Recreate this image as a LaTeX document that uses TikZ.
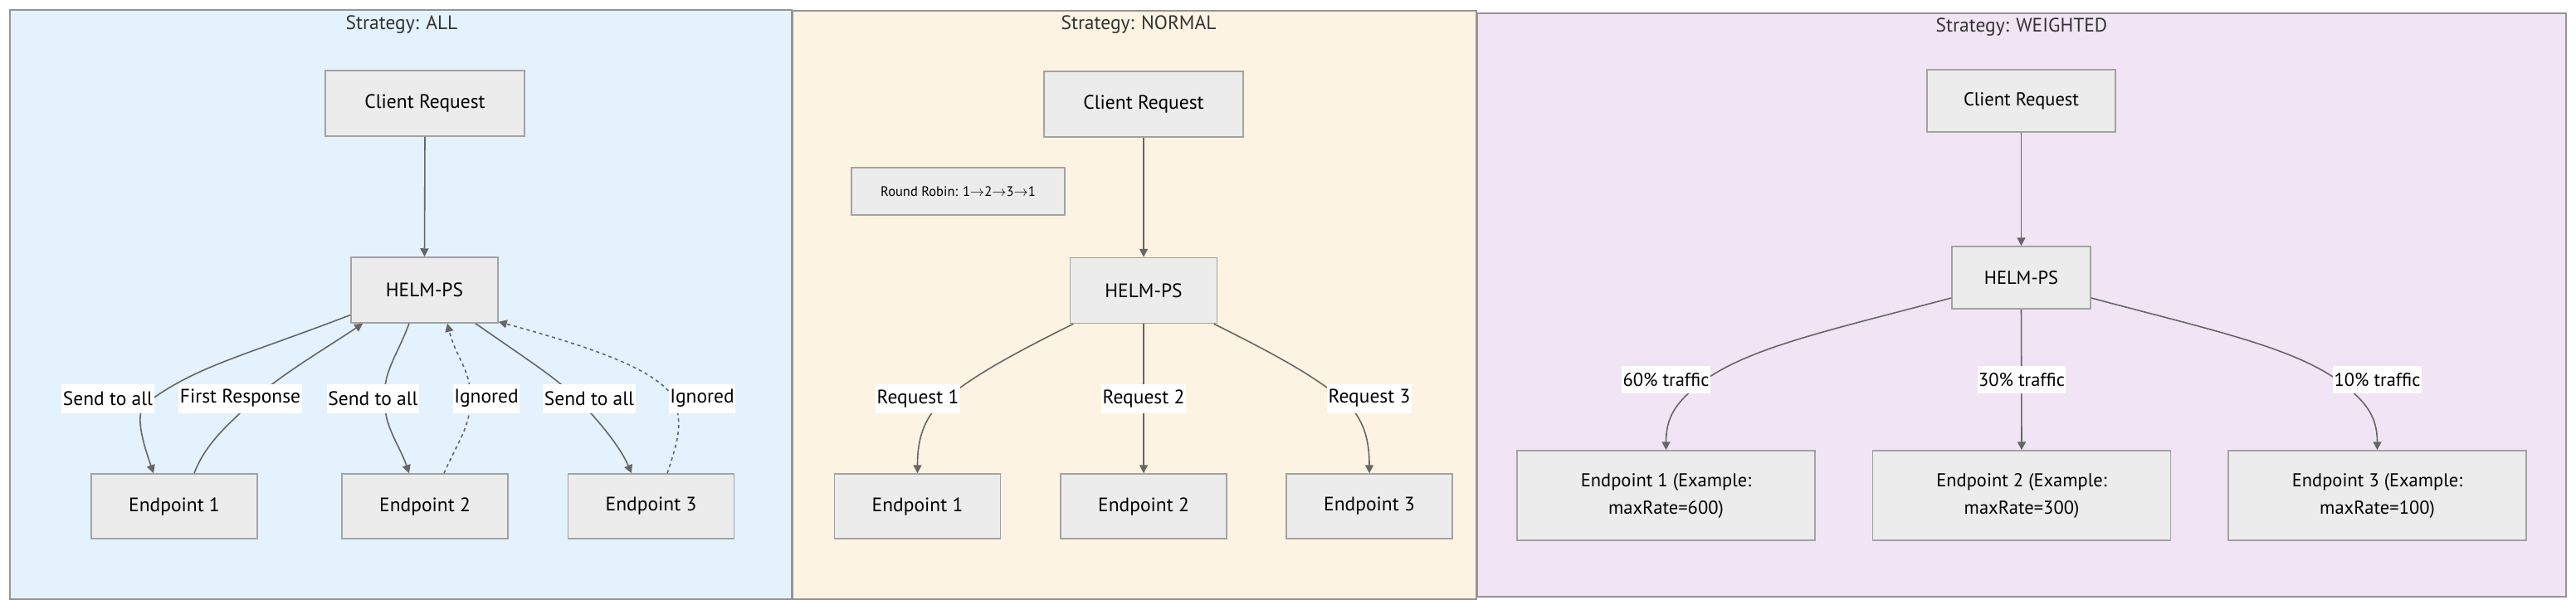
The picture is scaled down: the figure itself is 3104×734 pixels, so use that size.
\documentclass[tikz,border=0pt]{standalone}
\usepackage{fontspec}
\setmainfont{PT Sans}
\usetikzlibrary{arrows.meta,calc}
\definecolor{edgec}{HTML}{666666}
\definecolor{nodef}{HTML}{ECECEC}
\definecolor{nodeb}{HTML}{A3A3A3}
\definecolor{clusb}{HTML}{959595}
\definecolor{ttlc}{HTML}{333333}
\definecolor{allc}{HTML}{E3F2FD}
\definecolor{normc}{HTML}{FDF3E2}
\definecolor{weic}{HTML}{F1E4F4}
\begin{document}
\begin{tikzpicture}[x=1pt,y=-1pt,
  clus/.style={draw=clusb, line width=1.6pt, inner sep=0pt},
  ttl/.style={font=\fontsize{23.5}{27}\selectfont, text=ttlc, inner sep=0pt},
  box/.style={draw=nodeb, fill=nodef, line width=1.5pt, inner sep=0pt, align=center, text=black, font=\fontsize{23.5}{33}\selectfont},
  cbox/.style={box, minimum width=240pt, minimum height=79pt},
  hbox/.style={box, minimum width=177pt, minimum height=79pt},
  epbox/.style={box, minimum width=200pt, minimum height=78pt},
  wbox/.style={box, font=\fontsize{22.5}{33}\selectfont},
  lbl/.style={fill=white, inner xsep=1.5pt, inner ysep=0pt, minimum height=35pt, text=black, font=\fontsize{23.5}{28}\selectfont},
  wlbl/.style={lbl, minimum height=33pt, font=\fontsize{22.5}{27}\selectfont},
  edge/.style={draw=edgec, line width=1.6pt, -{Triangle[length=10pt,width=10pt]}},
  dotedge/.style={edge, dash pattern=on 4pt off 4pt}]
\useasboundingbox (0,0) rectangle (3104,734);

% clusters
\node[clus, fill=allc, minimum width=942pt, minimum height=710pt] (kA) at (483,367) {};
\node[clus, fill=normc, minimum width=824pt, minimum height=709pt] (kN) at (1367,367.5) {};
\node[clus, fill=weic, minimum width=1312pt, minimum height=703pt] (kW) at (2436,367.5) {};
\node[ttl] (tA) at ($(kA.north)+(1,18)$) {Strategy: ALL};
\node[ttl] (tN) at ($(kN.north)+(5,17)$) {Strategy: NORMAL};
\node[ttl] (tW) at ($(kW.north)+(0,17)$) {Strategy: WEIGHTED};

% ALL
\node[cbox] (cA) at (512,124.5) {Client Request};
\node[hbox] (hA) at (511.5,349.5) {HELM-PS};
\node[epbox] (a1) at (210,610) {Endpoint 1};
\node[epbox] (a2) at (512,610) {Endpoint 2};
\node[epbox] (a3) at (784.5,610) {Endpoint 3};

% NORMAL
\node[cbox] (cN) at (1378,125.5) {Client Request};
\node[box, minimum width=257pt, minimum height=57pt, font=\fontsize{16.5}{20}\selectfont] (rr) at (1154.5,230.5) {Round Robin: 1$\to$2$\to$3$\to$1};
\node[hbox] (hN) at (1378,350) {HELM-PS};
\node[epbox] (n1) at (1105.5,610) {Endpoint 1};
\node[epbox] (n2) at (1378,610) {Endpoint 2};
\node[epbox] (n3) at (1650,610) {Endpoint 3};

% WEIGHTED
\node[wbox, minimum width=227pt, minimum height=75pt] (cW) at (2435.5,121.5) {Client Request};
\node[wbox, minimum width=167pt, minimum height=75pt] (hW) at (2435.5,334.5) {HELM-PS};
\node[wbox, minimum width=359pt, minimum height=108pt] (w1) at (2007.5,597) {Endpoint 1 (Example:\\maxRate=600)};
\node[wbox, minimum width=359pt, minimum height=108pt] (w2) at (2436,597) {Endpoint 2 (Example:\\maxRate=300)};
\node[wbox, minimum width=359pt, minimum height=108pt] (w3) at (2864.5,597) {Endpoint 3 (Example:\\maxRate=100)};

% via points
\coordinate (v1) at (176,486);
\coordinate (v2) at (308,480);
\coordinate (v3) at (463,480);
\coordinate (v4) at (567,480);
\coordinate (v5) at (695,480);
\coordinate (v6) at (812,480);
\coordinate (v7) at (1140,480);
\coordinate (v9) at (1616,480);
\coordinate (v10) at (2045,465);
\coordinate (v12) at (2826,465);

% edges ALL
\draw[edge] (cA.south) -- (hA.north);
\draw[edge] ($(hA.west)+(0,30)$) .. controls +(-130,50) and +(60,-45) .. (v1)
  .. controls +(-15,12) and +(-12,-35) .. ($(a1.north)+(-25,0)$);
\draw[edge] ($(a1.north)+(24,0)$) .. controls +(15,-40) and +(-25,25) .. (v2)
  .. controls +(25,-25) and +(-45,30) .. ($(hA.south west)+(15,0)$);
\draw[edge] ($(hA.south)+(-18.5,0)$) .. controls +(-15,40) and +(0,-35) .. (v3)
  .. controls +(0,35) and +(-12,-35) .. ($(a2.north)+(-19,0)$);
\draw[dotedge] ($(a2.north)+(23,0)$) .. controls +(15,-35) and +(0,35) .. (v4)
  .. controls +(0,-35) and +(10,40) .. ($(hA.south)+(27.5,0)$);
\draw[edge] ($(hA.south)+(61.5,0)$) .. controls +(60,42) and +(-25,-25) .. (v5)
  .. controls +(20,20) and +(-15,-35) .. ($(a3.north)+(-23.5,0)$);
\draw[dotedge] ($(a3.north)+(19.5,0)$) .. controls +(15,-45) and +(10,30) .. (v6)
  .. controls +(-20,-35) and +(110,30) .. ($(hA.south east)+(0,-2)$);

% edges NORMAL
\draw[edge] (cN.south) -- (hN.north);
\draw[edge] ($(hN.south west)+(4.5,0)$) .. controls +(-80,40) and +(35,-28) .. (v7)
  .. controls +(-25,20) and +(0,-45) .. (n1.north);
\draw[edge] (hN.south) -- (n2.north);
\draw[edge] ($(hN.south east)+(-4.5,0)$) .. controls +(80,40) and +(-35,-28) .. (v9)
  .. controls +(25,20) and +(0,-45) .. (n3.north);

% edges WEIGHTED
\draw[edge] (cW.south) -- (hW.north);
\draw[edge] ($(hW.west)+(0,24.5)$) .. controls +(-150,40) and +(55,-45) .. (v10)
  .. controls +(-25,20) and +(0,-40) .. (w1.north);
\draw[edge] (hW.south) -- (w2.north);
\draw[edge] ($(hW.east)+(0,24.5)$) .. controls +(150,40) and +(-55,-45) .. (v12)
  .. controls +(25,20) and +(0,-40) .. (w3.north);

% labels
\node[lbl] (l1) at (130,480) {Send to all};
\node[lbl] (l2) at (289.5,480) {First Response};
\node[lbl] (l3) at (449.5,480) {Send to all};
\node[lbl] (l4) at (586,480) {Ignored};
\node[lbl] (l5) at (710,480) {Send to all};
\node[lbl] (l6) at (846,480) {Ignored};
\node[lbl] (l7) at (1106,480) {Request 1};
\node[lbl] (l8) at (1378,480) {Request 2};
\node[lbl] (l9) at (1650,480) {Request 3};
\node[wlbl] (l10) at (2007.5,457.5) {60\% traffic};
\node[wlbl] (l11) at (2436,457.5) {30\% traffic};
\node[wlbl] (l12) at (2864.5,457.5) {10\% traffic};
\end{tikzpicture}
\end{document}
